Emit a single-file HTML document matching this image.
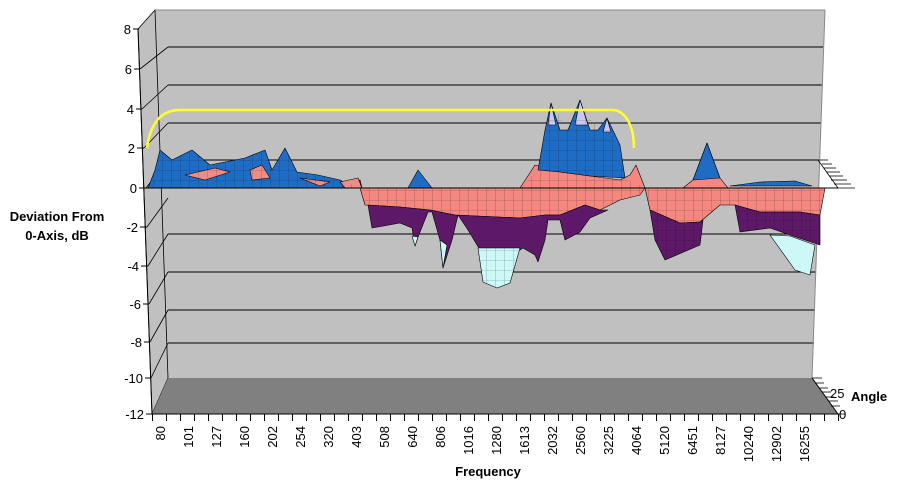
<!DOCTYPE html>
<html><head><meta charset="utf-8"><style>
body{margin:0;background:#fff;}
svg{display:block;font-family:"Liberation Sans",Arial,sans-serif;}
</style></head><body>
<svg width="897" height="487" viewBox="0 0 897 487" xmlns="http://www.w3.org/2000/svg">
<defs>
<pattern id="mesh" width="9" height="10" patternUnits="userSpaceOnUse">
<path d="M0 0V10M0 0H9" stroke="#000" stroke-width="0.6" opacity="0.45" fill="none"/>
</pattern>
</defs>
<polygon points="155,10 825,10 812,378 168,378" fill="#c0c0c0"/>
<polygon points="138,29 155,10 168,378 152,414" fill="#c0c0c0" stroke="#000" stroke-width="0.8"/>
<polygon points="168,378 812,378 838,414 152,414" fill="#808080"/>
<g stroke="#000" stroke-width="1">
<line x1="168" y1="47" x2="823" y2="47"/>
<line x1="168" y1="85" x2="822" y2="85"/>
<line x1="168" y1="123" x2="821" y2="123"/>
<line x1="168" y1="160" x2="820" y2="160"/>
<line x1="168" y1="234" x2="818" y2="234"/>
<line x1="168" y1="272" x2="816" y2="272"/>
<line x1="168" y1="310" x2="815" y2="310"/>
<line x1="168" y1="343" x2="814" y2="343"/>
</g>
<g stroke="#000" stroke-width="0.8">
<line x1="140" y1="69" x2="168" y2="47"/>
<line x1="142" y1="109" x2="168" y2="85"/>
<line x1="144" y1="148" x2="168" y2="123"/>
<line x1="146" y1="188" x2="168" y2="160"/>
<line x1="147" y1="227" x2="168" y2="198"/>
<line x1="148" y1="266" x2="168" y2="234"/>
<line x1="149" y1="304" x2="168" y2="272"/>
<line x1="150" y1="342" x2="168" y2="310"/>
<line x1="151" y1="378" x2="168" y2="343"/>
</g>
<line x1="155" y1="10" x2="825" y2="10" stroke="#888" stroke-width="1"/>
<line x1="825" y1="10" x2="812" y2="378" stroke="#888" stroke-width="1"/>

<g stroke="#000" stroke-width="0.6" stroke-linejoin="round">
<polygon points="148,188 155,170 160,150 172,160 192,150 210,165 245,158 265,150 272,170 285,148 297,172 318,175 340,180 350,185 360,180 362,188" fill="#1f6cc4"/>
<polygon points="185,175 215,168 230,172 205,180" fill="#f08c88"/>
<polygon points="250,170 262,165 270,178 252,180" fill="#f08c88"/>
<polygon points="300,178 330,182 320,186" fill="#f08c88"/>
<polygon points="340,182 358,178 362,188 345,188" fill="#f08c88"/>
<polygon points="360,188 645,188 640,195 620,200 600,210 585,205 560,215 545,215 520,218 455,215 430,210 400,207 365,205" fill="#f4877f"/>
<polygon points="645,188 825,188 820,215 800,212 760,212 735,205 720,205 700,222 680,223 650,210" fill="#f4877f"/>
<polygon points="368,205 400,207 430,210 455,215 520,218 545,215 560,215 585,205 600,210 608,210 590,218 580,232 565,240 560,220 548,220 545,240 538,262 535,255 523,248 520,250 480,250 468,230 458,215 452,240 443,268 440,240 432,212 428,212 418,237 415,246 412,228 400,223 372,228" fill="#5e1868"/>
<polygon points="650,210 680,223 700,222 703,220 700,245 665,260 655,240" fill="#5e1868"/>
<polygon points="735,205 760,212 800,212 820,215 820,245 790,235 770,228 740,232" fill="#5e1868"/>
<polygon points="478,248 520,248 510,283 497,288 483,282" fill="#ccf8f8"/>
<polygon points="440,240 447,245 443,268" fill="#ccf8f8"/>
<polygon points="412,236 418,237 415,246" fill="#ccf8f8"/>
<polygon points="770,235 790,236 815,245 810,275 795,270" fill="#ccf8f8"/>
<polygon points="520,188 535,165 560,172 590,176 620,180 630,175 636,165 645,188" fill="#f4877f"/>
<polygon points="538,170 545,130 551,103 560,130 568,130 580,100 590,130 598,130 607,118 620,145 625,178 590,176 560,172" fill="#1f6cc4"/>
<polygon points="548,125 551,103 556,125" fill="#c8c8f0"/>
<polygon points="575,125 580,100 588,125" fill="#c8c8f0"/>
<polygon points="603,132 607,118 611,132" fill="#c8c8f0"/>
<polygon points="683,188 693,180 707,143 720,178 728,188" fill="#f4877f"/>
<polygon points="693,180 707,143 720,178" fill="#1f6cc4"/>
<polygon points="730,186 760,182 795,181 812,186" fill="#1f6cc4"/>
<polygon points="408,188 418,170 432,188" fill="#1f6cc4"/>
</g>
<g fill="url(#mesh)">
<polygon points="148,188 155,170 160,150 172,160 192,150 210,165 245,158 265,150 272,170 285,148 297,172 318,175 340,180 350,185 360,180 362,188"/>
<polygon points="360,188 645,188 640,195 620,200 600,210 585,205 560,215 545,215 520,218 455,215 430,210 400,207 365,205"/>
<polygon points="645,188 825,188 820,215 800,212 760,212 735,205 720,205 700,222 680,223 650,210"/>
<polygon points="520,188 538,170 551,103 568,130 580,100 598,130 607,118 625,178 645,188"/>
<polygon points="478,248 520,248 510,283 497,288 483,282"/>
<polygon points="650,210 680,223 700,222 703,220 700,245 665,260 655,240"/>
<polygon points="735,205 760,212 800,212 820,215 820,245 790,235 770,228 740,232"/>
</g>
<line x1="146" y1="188" x2="838" y2="188" stroke="#000" stroke-width="1"/>
<g stroke="#000" stroke-width="0.8">
<line x1="818" y1="160" x2="838" y2="188"/>
<line x1="820" y1="160" x2="828" y2="160"/>
<line x1="822" y1="164" x2="832" y2="164"/>
<line x1="824" y1="168" x2="836" y2="168"/>
<line x1="826" y1="172" x2="840" y2="172"/>
<line x1="829" y1="176" x2="843" y2="176"/>
<line x1="831" y1="180" x2="847" y2="180"/>
<line x1="834" y1="184" x2="851" y2="184"/>
<line x1="836" y1="188" x2="855" y2="188"/>
</g>
<path d="M147,148 C150,125 160,110 180,110 L612,110 C625,110 634,125 634,148" fill="none" stroke="#ffff30" stroke-width="2.5"/>

<line x1="138" y1="29" x2="152" y2="414" stroke="#000" stroke-width="1"/>
<g stroke="#000" stroke-width="1">
<line x1="133" y1="29" x2="139" y2="29"/>
<line x1="134" y1="69" x2="140" y2="69"/>
<line x1="136" y1="109" x2="142" y2="109"/>
<line x1="137" y1="148" x2="144" y2="148"/>
<line x1="139" y1="188" x2="146" y2="188"/>
<line x1="140" y1="227" x2="147" y2="227"/>
<line x1="141" y1="266" x2="148" y2="266"/>
<line x1="143" y1="304" x2="149" y2="304"/>
<line x1="144" y1="342" x2="150" y2="342"/>
<line x1="145" y1="378" x2="151" y2="378"/>
<line x1="146" y1="414" x2="152" y2="414"/>
</g>
<g font-size="13" text-anchor="end" fill="#000">
<text x="131" y="34">8</text>
<text x="132" y="74">6</text>
<text x="134" y="114">4</text>
<text x="135" y="153">2</text>
<text x="137" y="193">0</text>
<text x="138" y="232">-2</text>
<text x="139" y="271">-4</text>
<text x="141" y="309">-6</text>
<text x="142" y="347">-8</text>
<text x="143" y="383">-10</text>
<text x="144" y="419">-12</text>
</g>
<line x1="152" y1="414" x2="838" y2="414" stroke="#000" stroke-width="1"/>
<line x1="812" y1="378" x2="838" y2="414" stroke="#000" stroke-width="1"/>
<path stroke="#000" stroke-width="1" fill="none" d="M152.5 414v7M166.5 414v7M180.5 414v7M194.5 414v7M208.5 414v7M222.5 414v7M236.5 414v7M250.5 414v7M264.5 414v7M278.5 414v7M292.5 414v7M306.5 414v7M320.5 414v7M334.5 414v7M348.5 414v7M362.5 414v7M376.5 414v7M390.5 414v7M404.5 414v7M418.5 414v7M432.5 414v7M446.5 414v7M460.5 414v7M474.5 414v7M488.5 414v7M502.5 414v7M516.5 414v7M530.5 414v7M544.5 414v7M558.5 414v7M572.5 414v7M586.5 414v7M600.5 414v7M614.5 414v7M628.5 414v7M642.5 414v7M656.5 414v7M670.5 414v7M684.5 414v7M698.5 414v7M712.5 414v7M726.5 414v7M740.5 414v7M754.5 414v7M768.5 414v7M782.5 414v7M796.5 414v7M810.5 414v7M824.5 414v7M838.5 414v7"/>
<g font-size="13" fill="#000" text-anchor="end">
<text transform="translate(165,426) rotate(-90)">80</text>
<text transform="translate(193,426) rotate(-90)">101</text>
<text transform="translate(221,426) rotate(-90)">127</text>
<text transform="translate(249,426) rotate(-90)">160</text>
<text transform="translate(277,426) rotate(-90)">202</text>
<text transform="translate(305,426) rotate(-90)">254</text>
<text transform="translate(333,426) rotate(-90)">320</text>
<text transform="translate(361,426) rotate(-90)">403</text>
<text transform="translate(389,426) rotate(-90)">508</text>
<text transform="translate(417,426) rotate(-90)">640</text>
<text transform="translate(445,426) rotate(-90)">806</text>
<text transform="translate(473,426) rotate(-90)">1016</text>
<text transform="translate(501,426) rotate(-90)">1280</text>
<text transform="translate(529,426) rotate(-90)">1613</text>
<text transform="translate(557,426) rotate(-90)">2032</text>
<text transform="translate(585,426) rotate(-90)">2560</text>
<text transform="translate(613,426) rotate(-90)">3225</text>
<text transform="translate(641,426) rotate(-90)">4064</text>
<text transform="translate(669,426) rotate(-90)">5120</text>
<text transform="translate(697,426) rotate(-90)">6451</text>
<text transform="translate(725,426) rotate(-90)">8127</text>
<text transform="translate(753,426) rotate(-90)">10240</text>
<text transform="translate(781,426) rotate(-90)">12902</text>
<text transform="translate(809,426) rotate(-90)">16255</text>
</g>
<g stroke="#000" stroke-width="0.8">
<line x1="812" y1="378" x2="822" y2="378"/>
<line x1="815" y1="383" x2="824" y2="383"/>
<line x1="819" y1="388" x2="828" y2="388"/>
<line x1="822" y1="392" x2="831" y2="392"/>
<line x1="826" y1="397" x2="834" y2="397"/>
<line x1="829" y1="401" x2="838" y2="401"/>
<line x1="831" y1="406" x2="840" y2="406"/>
<line x1="838" y1="414" x2="845" y2="414"/>
</g>
<text x="830" y="398" font-size="13">25</text>
<text x="839" y="419" font-size="13">0</text>
<text x="851" y="401" font-size="13" font-weight="bold">Angle</text>
<text x="488" y="476" font-size="13" font-weight="bold" text-anchor="middle">Frequency</text>
<text x="57" y="221" font-size="13" font-weight="bold" text-anchor="middle">Deviation From</text>
<text x="57" y="240" font-size="13" font-weight="bold" text-anchor="middle">0-Axis, dB</text>
</svg>
</body></html>
